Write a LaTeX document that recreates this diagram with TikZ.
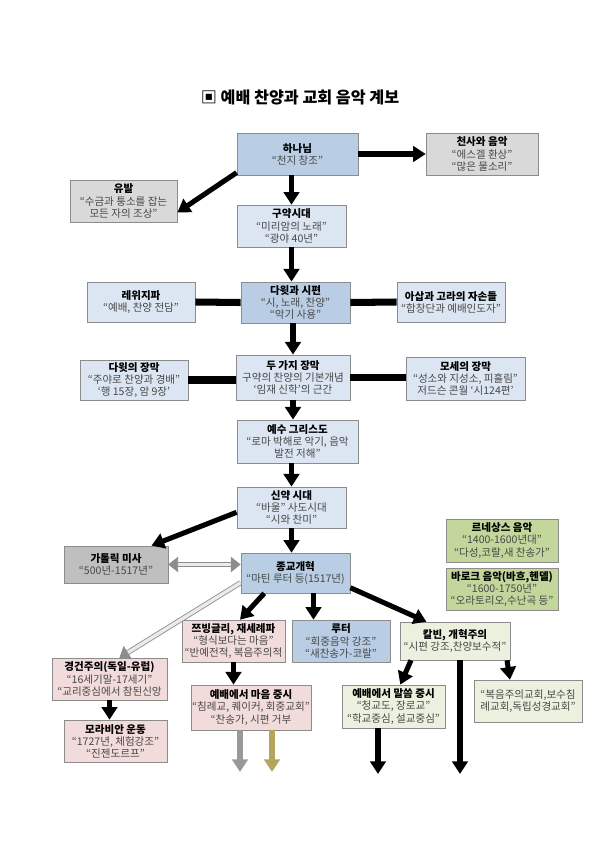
\documentclass[tikz,border=0pt]{standalone}
\usepackage{fontspec}
\setmainfont{Noto Sans CJK KR}
\usetikzlibrary{arrows.meta}

\definecolor{boxblue}{HTML}{B9CDE5}
\definecolor{paleblue}{HTML}{DCE6F2}
\definecolor{boxgray}{HTML}{D9D9D9}
\definecolor{massgray}{HTML}{BFBFBF}
\definecolor{boxgreen}{HTML}{C3D69B}
\definecolor{palegreen}{HTML}{EBF1DE}
\definecolor{boxpink}{HTML}{F2DCDB}
\definecolor{tanarrow}{HTML}{B5A55C}

\newcommand{\hd}[1]{{\color{black}\bfseries #1}}

\begin{document}
\begin{tikzpicture}[
  x=0.025cm, y=-0.025cm,
  font=\fontsize{7.5}{8.6}\selectfont,
  box/.style={
    draw=black!45,
    fill=#1,
    align=center,
    inner sep=1pt,
    text=black!72
  },
  flow/.style={-{Triangle[length=9pt,width=11pt]}, line width=3.6pt, draw=black},
  link/.style={line width=5pt, draw=black},
  hollow/.style={
    draw=black!45,
    double=black!8,
    double distance=2.4pt,
    line width=0.6pt,
    >={Triangle[length=7pt,width=11pt]}
  }
]

\useasboundingbox (0,0) rectangle (600,848);

\node[font=\fontsize{11.5}{13}\selectfont\bfseries] (title) at (300,97) {▣ 예배 찬양과 교회 음악 계보};

\node[box=boxblue, minimum width=3.03cm, minimum height=1.05cm] (god) at (297.5,154) {\hd{하나님}\\“천지 창조”};
\node[box=boxgray, minimum width=2.8cm, minimum height=1.05cm] (angel) at (482,154) {\hd{천사와 음악}\\“에스겔 환상”\\“많은 물소리”};
\node[box=boxgray, minimum width=2.68cm, minimum height=1.05cm] (yubal) at (123.5,201) {\hd{유발}\\“수금과 퉁소를 잡는\\모든 자의 조상”};
\node[box=paleblue, minimum width=2.73cm, minimum height=1.05cm] (ot) at (291.5,226) {\hd{구약시대}\\“미리암의 노래”\\“광야 40년”};

\node[box=paleblue, minimum width=2.7cm, minimum height=1cm] (levi) at (141,302) {\hd{레위지파}\\“예배, 찬양 전담”};
\node[box=boxblue, minimum width=2.73cm, minimum height=1.03cm] (david) at (295.5,302.5) {\hd{다윗과 시편}\\“시, 노래, 찬양”\\“악기 사용”};
\node[box=paleblue, minimum width=2.7cm, minimum height=1cm] (asaph) at (451,302) {\hd{아삽과 고라의 자손들}\\“합창단과 예배인도자”};

\node[box=paleblue, minimum width=2.7cm, minimum height=1cm] (dtab) at (134,380) {\hd{다윗의 장막}\\“주야로 찬양과 경배”\\‘행 15장, 암 9장’};
\node[box=paleblue, minimum width=2.85cm, minimum height=1.13cm] (twotab) at (293,377.5) {\hd{두 가지 장막}\\구약의 찬양의 기본개념\\‘임재 신학’의 근간};
\node[box=paleblue, minimum width=2.98cm, minimum height=1.08cm] (mtab) at (465.5,378.5) {\hd{모세의 장막}\\“성소와 지성소, 피흘림”\\저드슨 콘월 ‘시124편’};

\node[box=paleblue, minimum width=3.03cm, minimum height=1.08cm] (jesus) at (297.5,441.5) {\hd{예수 그리스도}\\“로마 박해로 악기, 음악\\발전 저해”};
\node[box=paleblue, minimum width=2.73cm, minimum height=1.03cm] (nt) at (291.5,507.5) {\hd{신약 시대}\\“바울” 사도시대\\“시와 찬미”};

\node[box=massgray, minimum width=2.6cm, minimum height=0.93cm] (mass) at (116,564.5) {\hd{가톨릭 미사}\\“500년-1517년”};
\node[box=boxblue, minimum width=2.73cm, minimum height=1cm] (reform) at (295.5,573) {\hd{종교개혁}\\“마틴 루터 등(1517년)};
\node[box=boxgreen, minimum width=2.8cm, minimum height=1.08cm] (renais) at (502,540.5) {\hd{르네상스 음악}\\“1400-1600년대”\\“다성,코랄,새 찬송가”};
\node[box=boxgreen, minimum width=2.8cm, minimum height=1.05cm] (baroque) at (502,589) {\hd{바로크 음악(바흐,헨델)}\\“1600-1750년”\\“오라토리오,수난곡 등”};

\node[box=boxpink, minimum width=2.58cm, minimum height=1.05cm] (zwingli) at (233.5,641) {\hd{쯔빙글리, 재세례파}\\“형식보다는 마음”\\“반예전적, 복음주의적};
\node[box=boxblue, minimum width=2.45cm, minimum height=1.05cm] (luther) at (341,641) {\hd{루터}\\“회중음악 강조”\\“새찬송가-코랄”};
\node[box=palegreen, minimum width=2.75cm, minimum height=0.95cm] (calvin) at (455,641) {\hd{칼빈, 개혁주의}\\“시편 강조,찬양보수적”};

\node[box=boxpink, minimum width=2.88cm, minimum height=1.05cm] (pietism) at (109.5,679) {\hd{경건주의(독일-유럽)}\\“16세기말-17세기”\\“교리중심에서 참된신앙};
\node[box=boxpink, minimum width=2.95cm, minimum height=1.13cm] (heart) at (251,707.5) {\hd{예배에서 마음 중시}\\“침례교, 퀘이커, 회중교회”\\“찬송가, 시편 거부};
\node[box=palegreen, minimum width=2.58cm, minimum height=1.08cm] (word) at (393.5,706.5) {\hd{예배에서 말씀 중시}\\“청교도, 장로교”\\“학교중심, 설교중심”};
\node[box=palegreen, minimum width=2.7cm, minimum height=1.05cm] (evang) at (528,701) {“복음주의교회,보수침\\례교회,독립성경교회”};
\node[box=boxpink, minimum width=2.58cm, minimum height=1.05cm] (moravian) at (115.5,741) {\hd{모라비안 운동}\\“1727년, 체험강조”\\“진젠도르프”};

\coordinate (heartA) at (240,772);
\coordinate (heartB) at (272,772);
\coordinate (wordEnd) at (378,774);
\coordinate (calvinEnd) at (460,774);

\draw[flow] (god.east) -- (angel.west);
\draw[flow] (god.197) -- (yubal.-12);
\draw[flow] (ot.north |- god.south) -- (ot.north);
\draw[flow] (ot.south) -- (ot.south |- david.north);
\draw[link] (levi.east) -- (david.west);
\draw[link] (david.east) -- (asaph.west);
\draw[flow] (twotab.north |- david.south) -- (twotab.north);
\draw[link] (dtab.east) -- (dtab.east -| twotab.west);
\draw[link] (twotab.east) -- (twotab.east -| mtab.west);
\draw[flow] (twotab.south) -- (twotab.south |- jesus.north);
\draw[flow] (nt.north |- jesus.south) -- (nt.north);
\draw[flow] (nt.185) -- (mass.28);
\draw[flow] (nt.south) -- (nt.south |- reform.north);

\draw[hollow, <->] (mass.east) -- (mass.east -| reform.west);
\draw[hollow, ->] (reform.190) -- (pietism.65);
\draw[flow] (reform.213) -- (zwingli.73);
\draw[flow] ([xshift=0.45cm]reform.south) -- ([xshift=0.45cm]reform.south |- luther.north);
\draw[flow] (reform.-15) -- (calvin.146);

\draw[flow] (pietism.south) -- (pietism.south |- moravian.north);
\draw[flow] (zwingli.south) -- (zwingli.south |- heart.north);
\draw[flow] ([xshift=-1.1cm]calvin.south) -- ([xshift=0.17cm]word.north);
\draw[flow] (calvin.south -| calvinEnd) -- (calvinEnd);
\draw[flow] ([xshift=1.3cm]calvin.south) -- ([xshift=-0.45cm]evang.north);
\draw[flow, draw=black!40] (heart.south -| heartA) -- (heartA);
\draw[flow, draw=tanarrow] (heart.south -| heartB) -- (heartB);
\draw[flow] (word.south -| wordEnd) -- (wordEnd);

\end{tikzpicture}
\end{document}
